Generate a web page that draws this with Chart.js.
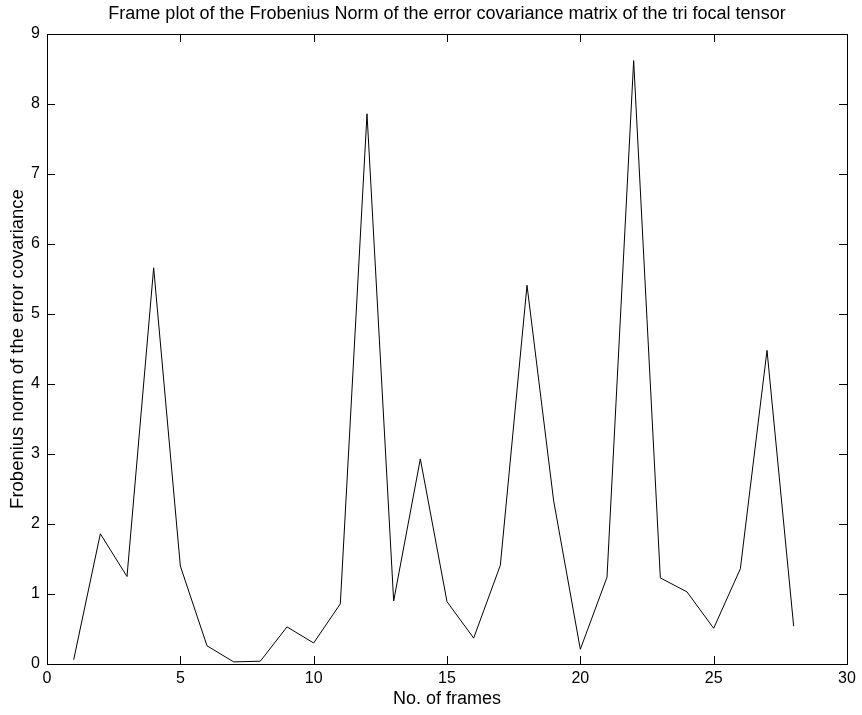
<!DOCTYPE html>
<html>
<head>
<meta charset="utf-8">
<script src="https://cdn.jsdelivr.net/npm/chart.js@4/dist/chart.umd.min.js"></script>
<style>
  html, body { margin: 0; padding: 0; background: #fff; }
  #wrap { width: 862px; height: 715px; }
</style>
</head>
<body>
<div id="wrap"><canvas id="c" width="862" height="715"></canvas></div>
<script>
const frames = [1,2,3,4,5,6,7,8,9,10,11,12,13,14,15,16,17,18,19,20,21,22,23,24,25,26,27,28];
const normValues = [0.06,1.86,1.25,5.66,1.40,0.26,0.03,0.04,0.53,0.30,0.86,7.86,0.90,2.93,0.89,0.37,1.41,5.41,2.33,0.21,1.24,8.62,1.23,1.03,0.51,1.36,4.48,0.54];
const xTicks = [0,5,10,15,20,25,30];
const yTicks = [0,1,2,3,4,5,6,7,8,9];
const titleText = 'Frame plot of the Frobenius Norm of the error covariance matrix of the tri focal tensor';
const xLabel = 'No. of frames';
const yLabel = 'Frobenius norm of the error covariance';

const FONT = "'Liberation Sans', Arial, Helvetica, sans-serif";

const boxPlugin = {
  id: 'matlabBox',
  afterDraw(chart) {
    const ctx = chart.ctx;
    const a = chart.chartArea;
    const xs = chart.scales.x, ys = chart.scales.y;
    const L = 8;
    ctx.save();
    ctx.strokeStyle = '#000';
    ctx.lineWidth = 1;
    ctx.beginPath();
    xs.ticks.forEach((t) => {
      const px = Math.round(xs.getPixelForValue(t.value)) + 0.5;
      ctx.moveTo(px, a.bottom); ctx.lineTo(px, a.bottom - L);
      ctx.moveTo(px, a.top); ctx.lineTo(px, a.top + L);
    });
    ys.ticks.forEach((t) => {
      const py = Math.round(ys.getPixelForValue(t.value)) + 0.5;
      ctx.moveTo(a.left, py); ctx.lineTo(a.left + L, py);
      ctx.moveTo(a.right, py); ctx.lineTo(a.right - L, py);
    });
    ctx.stroke();
    ctx.strokeRect(Math.round(a.left) + 0.5, Math.round(a.top) + 0.5,
                   Math.round(a.right - a.left), Math.round(a.bottom - a.top));
    ctx.restore();
  }
};

new Chart(document.getElementById('c'), {
  type: 'line',
  data: {
    datasets: [{
      data: frames.map((f, i) => ({x: f, y: normValues[i]})),
      borderColor: '#000',
      borderWidth: 1,
      pointRadius: 0,
      tension: 0,
      fill: false
    }]
  },
  options: {
    responsive: false,
    animation: false,
    devicePixelRatio: 1,
    layout: { padding: { left: 0, right: 15, top: 0, bottom: 0 } },
    plugins: {
      legend: { display: false },
      tooltip: { enabled: false },
      title: {
        display: true,
        text: titleText,
        fullSize: false,
        color: '#000',
        font: { family: FONT, size: 18, weight: 'normal' },
        padding: { top: 3, bottom: 9.4 }
      }
    },
    scales: {
      x: {
        type: 'linear',
        min: 0, max: 30,
        afterBuildTicks(scale) { scale.ticks = xTicks.map(v => ({value: v})); },
        afterFit(scale) { scale.height = 51; },
        grid: { display: false, drawTicks: false },
        border: { display: false },
        ticks: {
          color: '#000',
          padding: 5,
          maxRotation: 0,
          font: { family: FONT, size: 16 }
        },
        title: {
          display: true,
          text: xLabel,
          color: '#000',
          font: { family: FONT, size: 18 },
          padding: { top: 0, bottom: 5 }
        }
      },
      y: {
        type: 'linear',
        min: 0, max: 9,
        afterBuildTicks(scale) { scale.ticks = yTicks.map(v => ({value: v})); },
        afterFit(scale) { scale.width = 47; },
        grid: { display: false, drawTicks: false },
        border: { display: false },
        ticks: {
          color: '#000',
          padding: 7,
          font: { family: FONT, size: 16 }
        },
        title: {
          display: true,
          text: yLabel,
          color: '#000',
          font: { family: FONT, size: 18.5 },
          padding: { top: 7, bottom: 0 }
        }
      }
    }
  },
  plugins: [boxPlugin]
});
</script>
</body>
</html>
